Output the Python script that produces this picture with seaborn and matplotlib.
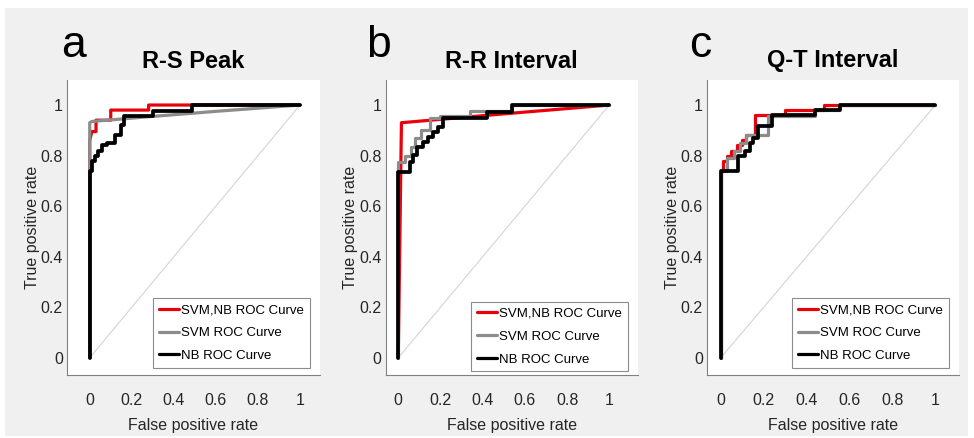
import matplotlib
matplotlib.use("Agg")
import matplotlib.pyplot as plt
from matplotlib.patches import Rectangle
import seaborn as sns
import pandas as pd

# ROC curves (false positive rate, true positive rate) for each ECG feature
rs_fpr_svmnb = [0, 0, 0.01, 0.03, 0.03, 0.10, 0.10, 0.28, 0.28, 0.48, 1.0]
rs_tpr_svmnb = [0, 0.86, 0.895, 0.895, 0.94, 0.94, 0.98, 0.98, 1.0, 1.0, 1.0]
rs_fpr_svm = [0, 0, 0.01, 0.30, 0.60, 1.0]
rs_tpr_svm = [0, 0.93, 0.935, 0.955, 0.975, 1.0]
rs_fpr_nb = [0, 0, 0.01, 0.01, 0.025, 0.025, 0.04, 0.04, 0.057, 0.057, 0.08, 0.08,
             0.12, 0.12, 0.15, 0.15, 0.165, 0.165, 0.30, 0.30, 0.485, 0.485, 1.0]
rs_tpr_nb = [0, 0.74, 0.74, 0.78, 0.78, 0.80, 0.80, 0.82, 0.82, 0.84, 0.84, 0.85,
             0.85, 0.88, 0.88, 0.92, 0.92, 0.955, 0.955, 0.975, 0.975, 1.0, 1.0]

rr_fpr_svmnb = [0, 0.015, 0.50, 1.0]
rr_tpr_svmnb = [0, 0.93, 0.965, 1.0]
rr_fpr_svm = [0, 0, 0.03, 0.03, 0.06, 0.06, 0.08, 0.08, 0.11, 0.11, 0.15, 0.15,
              0.20, 0.20, 0.34, 0.34, 0.54, 0.54, 1.0]
rr_tpr_svm = [0, 0.776, 0.776, 0.80, 0.80, 0.835, 0.835, 0.87, 0.87, 0.90, 0.90, 0.95,
              0.95, 0.955, 0.955, 0.975, 0.975, 1.0, 1.0]
rr_fpr_nb = [0, 0, 0.055, 0.055, 0.071, 0.071, 0.087, 0.087, 0.118, 0.118, 0.142, 0.142,
             0.166, 0.166, 0.19, 0.19, 0.213, 0.213, 0.42, 0.42, 0.537, 0.537, 1.0]
rr_tpr_nb = [0, 0.736, 0.736, 0.776, 0.776, 0.802, 0.802, 0.835, 0.835, 0.855, 0.855, 0.875,
             0.875, 0.894, 0.894, 0.914, 0.914, 0.947, 0.947, 0.974, 0.974, 1.0, 1.0]

qt_fpr_svmnb = [0, 0, 0.012, 0.012, 0.03, 0.03, 0.05, 0.05, 0.075, 0.075, 0.10, 0.10,
                0.12, 0.12, 0.16, 0.16, 0.30, 0.30, 0.48, 0.48, 1.0]
qt_tpr_svmnb = [0, 0.74, 0.74, 0.78, 0.78, 0.80, 0.80, 0.82, 0.82, 0.84, 0.84, 0.86,
                0.86, 0.88, 0.88, 0.96, 0.96, 0.98, 0.98, 1.0, 1.0]
qt_fpr_svm = [0, 0, 0.03, 0.03, 0.06, 0.06, 0.09, 0.09, 0.12, 0.12, 0.22, 0.22,
              0.44, 0.44, 0.55, 0.55, 1.0]
qt_tpr_svm = [0, 0.74, 0.74, 0.79, 0.79, 0.82, 0.82, 0.85, 0.85, 0.88, 0.88, 0.955,
              0.955, 0.98, 0.98, 1.0, 1.0]
qt_fpr_nb = [0, 0, 0.082, 0.082, 0.113, 0.113, 0.137, 0.137, 0.152, 0.152, 0.175, 0.175,
             0.238, 0.238, 0.44, 0.44, 0.556, 0.556, 1.0]
qt_tpr_nb = [0, 0.74, 0.74, 0.797, 0.797, 0.817, 0.817, 0.85, 0.85, 0.87, 0.87, 0.916,
             0.916, 0.96, 0.96, 0.981, 0.981, 1.0, 1.0]

panel_letters = ["a", "b", "c"]
panel_titles = ["R-S Peak", "R-R Interval", "Q-T Interval"]
series_names = ["SVM,NB ROC Curve", "SVM ROC Curve", "NB ROC Curve"]
tick_values = [0, 0.2, 0.4, 0.6, 0.8, 1.0]
tick_labels = ["0", "0.2", "0.4", "0.6", "0.8", "1"]

panels = [
    [(rs_fpr_svmnb, rs_tpr_svmnb), (rs_fpr_svm, rs_tpr_svm), (rs_fpr_nb, rs_tpr_nb)],
    [(rr_fpr_svmnb, rr_tpr_svmnb), (rr_fpr_svm, rr_tpr_svm), (rr_fpr_nb, rr_tpr_nb)],
    [(qt_fpr_svmnb, qt_tpr_svmnb), (qt_fpr_svm, qt_tpr_svm), (qt_fpr_nb, qt_tpr_nb)],
]

sns.set_theme(style="white")
plt.rcParams["font.family"] = ["Liberation Sans", "DejaVu Sans"]

W, H = 974, 438
fig = plt.figure(figsize=(W / 100, H / 100), dpi=100, facecolor="white")
fig.patches.append(Rectangle((5 / W, 2 / H), (W - 11) / W, (H - 10) / H,
                             transform=fig.transFigure, facecolor="#f0f0f0",
                             edgecolor="none", zorder=-10))

# axes boxes in pixels: left, right, and x-limits
boxes = [(67, 320, (-0.108, 1.095)), (385.6, 637.8, (-0.06, 1.135)), (707, 959, (-0.064, 1.11))]
letter_x = [61, 366, 689]
legend_anchor = [(0.960, 0.024), (0.961, 0.012), (0.960, 0.024)]
ax_top, ax_bot = 80, 375

colors = ["#e8000b", "#8c8c8c", "#000000"]
widths = [2.3, 2.3, 2.7]
text_col = "#262626"

for i, (l, r, xl) in enumerate(boxes):
    ax = fig.add_axes([l / W, 1 - ax_bot / H, (r - l) / W, (ax_bot - ax_top) / H])
    ax.set_facecolor("white")
    ax.plot([0, 1], [0, 1], color="#d4d4d4", lw=0.8, zorder=1)
    for j, (fx, ty) in enumerate(panels[i]):
        df = pd.DataFrame({"fpr": fx, "tpr": ty})
        sns.lineplot(data=df, x="fpr", y="tpr", sort=False, estimator=None,
                     color=colors[j], linewidth=widths[j], label=series_names[j],
                     ax=ax, zorder=2 + j)
    ax.set_xlim(*xl)
    ax.set_ylim(-0.068, 1.099)
    ax.set_xticks(tick_values)
    ax.set_xticklabels(tick_labels)
    ax.set_yticks(tick_values)
    ax.set_yticklabels(tick_labels)
    ax.tick_params(axis="x", direction="in", length=3, width=0.8, color="#808080",
                   pad=13, labelsize=11.5, labelcolor=text_col)
    ax.tick_params(axis="y", direction="in", length=3, width=0.8, color="#808080",
                   pad=3, labelsize=11.5, labelcolor=text_col)
    for s in ["top", "right"]:
        ax.spines[s].set_visible(False)
    for s in ["left", "bottom"]:
        ax.spines[s].set_color("#808080")
        ax.spines[s].set_linewidth(0.8)
    ax.set_xlabel("False positive rate", fontsize=11.5, color=text_col, labelpad=7)
    ax.set_ylabel("True positive rate", fontsize=11.5, color=text_col, labelpad=0.5)
    ax.set_title(panel_titles[i], fontsize=17, fontweight="bold", color="black", pad=9)
    leg = ax.legend(loc="lower right", bbox_to_anchor=legend_anchor[i], borderaxespad=0,
                    fontsize=9.5, frameon=True, fancybox=False, handlelength=1.5,
                    handletextpad=0.15, labelspacing=0.8, borderpad=0.45)
    leg.get_frame().set_edgecolor("#8c8c8c")
    leg.get_frame().set_linewidth(0.8)
    leg.get_frame().set_facecolor("white")
    leg.get_frame().set_alpha(1)
    for t in leg.get_texts():
        t.set_color("black")
    for h in leg.get_lines():
        h.set_linewidth(2.3)
    fig.text(letter_x[i] / W, 1 - 57 / H, panel_letters[i], fontsize=32,
             color="black", ha="left", va="baseline")

fig.savefig("out.png", dpi=100, facecolor=fig.get_facecolor())
